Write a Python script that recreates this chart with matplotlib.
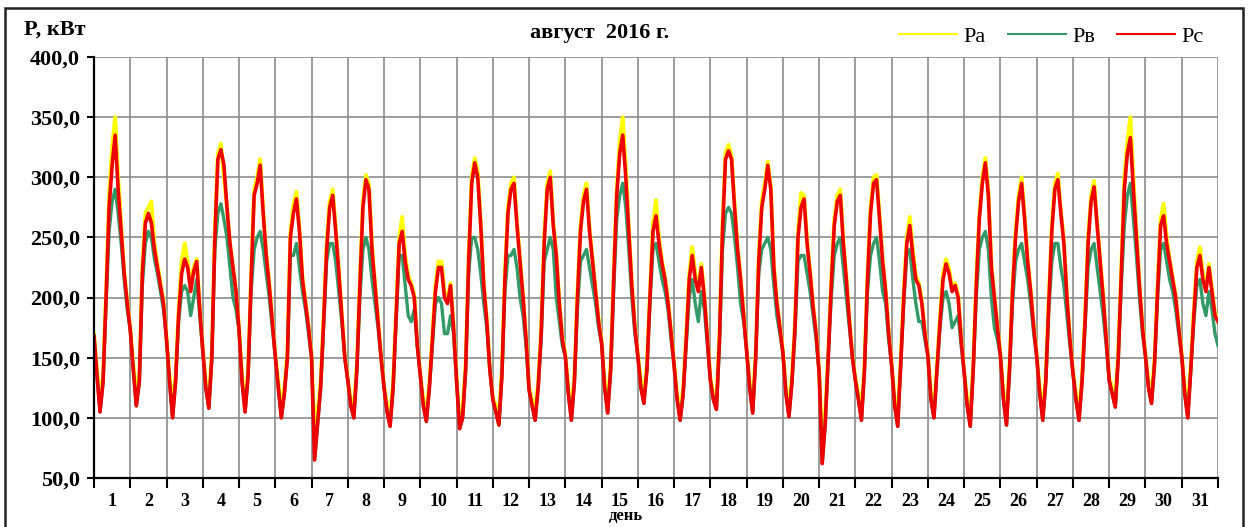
import matplotlib.pyplot as plt
import numpy as np
from matplotlib.patches import Rectangle

# readings every 2 hours (0, 2, ... 22 h) for each day of August 2016, kW
pc_days = [
    [168, 135, 105, 130, 200, 275, 310, 335, 290, 255, 220, 195],
    [173, 140, 110, 130, 220, 262, 270, 262, 240, 225, 210, 195],
    [165, 130, 100, 130, 185, 220, 232, 225, 205, 222, 230, 190],
    [156, 125, 108, 150, 250, 315, 323, 310, 275, 245, 225, 205],
    [173, 130, 105, 135, 215, 285, 295, 310, 270, 235, 210, 180],
    [151, 125, 100, 120, 150, 250, 270, 282, 255, 215, 195, 175],
    [150, 65, 95, 125, 180, 240, 275, 285, 255, 222, 185, 150],
    [131, 110, 100, 140, 210, 275, 298, 290, 240, 210, 180, 150],
    [125, 105, 93, 125, 185, 245, 255, 230, 215, 210, 200, 160],
    [135, 110, 97, 125, 165, 205, 225, 225, 200, 195, 210, 175],
    [131, 91, 100, 140, 230, 295, 312, 300, 260, 210, 180, 140],
    [115, 105, 94, 135, 215, 270, 290, 295, 260, 230, 200, 165],
    [123, 110, 98, 125, 170, 245, 290, 300, 260, 235, 195, 165],
    [151, 120, 98, 130, 200, 255, 280, 290, 255, 230, 205, 180],
    [162, 125, 104, 140, 215, 285, 320, 335, 300, 255, 210, 175],
    [151, 125, 112, 140, 200, 255, 268, 245, 228, 215, 195, 170],
    [143, 115, 98, 120, 165, 215, 235, 215, 205, 225, 200, 165],
    [131, 115, 107, 165, 255, 315, 322, 315, 275, 240, 215, 185],
    [156, 125, 104, 150, 230, 275, 290, 310, 290, 225, 195, 175],
    [154, 120, 101, 130, 175, 250, 275, 282, 245, 220, 192, 170],
    [137, 62, 95, 150, 210, 260, 280, 285, 245, 215, 180, 150],
    [131, 115, 98, 140, 215, 270, 295, 298, 265, 230, 205, 170],
    [143, 110, 93, 145, 200, 245, 260, 235, 215, 210, 195, 170],
    [151, 115, 100, 140, 180, 215, 228, 220, 205, 210, 200, 165],
    [137, 110, 93, 140, 210, 265, 295, 312, 285, 225, 200, 175],
    [151, 115, 94, 140, 205, 250, 280, 295, 265, 230, 205, 175],
    [151, 120, 98, 130, 195, 255, 290, 298, 270, 245, 200, 165],
    [137, 115, 98, 130, 180, 245, 280, 292, 260, 230, 200, 165],
    [131, 120, 109, 150, 220, 290, 320, 333, 290, 250, 210, 175],
    [151, 125, 112, 145, 205, 260, 268, 245, 230, 215, 200, 175],
    [151, 120, 100, 140, 185, 225, 235, 215, 205, 225, 205, 185],
]
pb_days = [
    [168, 135, 105, 130, 195, 255, 280, 290, 270, 245, 215, 190],
    [173, 140, 110, 130, 210, 245, 255, 250, 232, 220, 205, 190],
    [165, 130, 100, 130, 180, 205, 210, 205, 185, 200, 215, 185],
    [156, 125, 108, 150, 240, 270, 278, 265, 250, 225, 200, 190],
    [173, 130, 105, 135, 205, 240, 250, 255, 240, 220, 200, 175],
    [151, 125, 100, 120, 150, 235, 235, 245, 225, 205, 190, 170],
    [150, 65, 95, 125, 175, 230, 245, 245, 230, 205, 180, 150],
    [131, 110, 100, 140, 200, 240, 250, 240, 215, 195, 175, 150],
    [125, 105, 93, 125, 180, 235, 235, 210, 185, 180, 190, 160],
    [135, 110, 97, 125, 160, 195, 200, 195, 170, 170, 185, 170],
    [131, 91, 100, 140, 220, 250, 250, 240, 220, 195, 175, 140],
    [115, 105, 94, 135, 205, 235, 235, 240, 225, 200, 185, 160],
    [123, 110, 98, 125, 165, 230, 240, 250, 240, 200, 180, 160],
    [151, 120, 98, 130, 190, 230, 235, 240, 225, 210, 195, 175],
    [162, 125, 104, 140, 205, 265, 285, 295, 275, 240, 200, 170],
    [151, 125, 112, 140, 195, 240, 245, 230, 215, 205, 190, 165],
    [143, 115, 98, 120, 160, 200, 215, 195, 180, 205, 190, 160],
    [131, 115, 107, 160, 240, 270, 275, 270, 250, 225, 195, 180],
    [156, 125, 104, 150, 220, 240, 245, 250, 240, 210, 185, 170],
    [154, 120, 101, 130, 170, 230, 235, 235, 220, 205, 185, 165],
    [137, 62, 95, 150, 200, 235, 245, 250, 225, 200, 175, 150],
    [131, 115, 98, 140, 205, 235, 245, 250, 230, 205, 195, 165],
    [143, 110, 93, 145, 195, 235, 240, 215, 195, 180, 180, 165],
    [151, 115, 100, 140, 175, 200, 205, 195, 175, 180, 185, 160],
    [137, 110, 93, 140, 200, 240, 250, 255, 240, 200, 175, 165],
    [151, 115, 94, 140, 195, 230, 240, 245, 230, 215, 195, 170],
    [151, 120, 98, 130, 190, 230, 245, 245, 225, 210, 185, 160],
    [137, 115, 98, 130, 175, 225, 240, 245, 225, 205, 185, 160],
    [131, 120, 109, 150, 210, 260, 285, 295, 265, 235, 200, 170],
    [151, 125, 112, 145, 200, 240, 245, 230, 215, 205, 190, 170],
    [151, 120, 100, 140, 180, 210, 215, 195, 185, 205, 190, 170],
]
pa_days = [
    [170, 140, 115, 135, 205, 285, 325, 350, 300, 260, 222, 197],
    [175, 145, 120, 135, 225, 270, 275, 280, 245, 228, 212, 197],
    [167, 135, 112, 135, 190, 230, 245, 230, 210, 225, 232, 192],
    [158, 130, 115, 155, 255, 320, 328, 300, 275, 245, 225, 205],
    [175, 135, 112, 140, 220, 290, 300, 315, 272, 237, 212, 182],
    [153, 130, 110, 125, 155, 255, 278, 288, 258, 217, 197, 177],
    [152, 90, 105, 130, 185, 245, 280, 290, 258, 224, 187, 152],
    [133, 115, 108, 145, 215, 280, 302, 294, 244, 212, 182, 152],
    [127, 110, 102, 130, 190, 250, 267, 235, 218, 212, 202, 162],
    [137, 115, 105, 130, 170, 210, 230, 230, 205, 198, 212, 177],
    [133, 97, 108, 145, 235, 300, 316, 305, 262, 212, 182, 142],
    [117, 110, 103, 140, 220, 275, 295, 300, 262, 232, 202, 167],
    [125, 115, 106, 130, 175, 250, 295, 305, 262, 237, 197, 167],
    [153, 125, 106, 135, 205, 260, 285, 295, 258, 232, 207, 182],
    [164, 130, 112, 145, 220, 290, 330, 350, 310, 258, 212, 177],
    [153, 130, 120, 145, 205, 262, 281, 250, 230, 217, 197, 172],
    [145, 120, 106, 125, 170, 220, 242, 220, 208, 228, 202, 167],
    [133, 120, 114, 170, 260, 320, 327, 318, 278, 242, 217, 187],
    [158, 130, 112, 155, 235, 280, 295, 313, 292, 227, 197, 177],
    [156, 125, 110, 135, 180, 255, 287, 285, 248, 222, 194, 172],
    [139, 80, 105, 155, 215, 265, 285, 290, 248, 217, 182, 152],
    [133, 120, 106, 145, 220, 275, 300, 302, 268, 232, 207, 172],
    [145, 115, 102, 150, 205, 250, 267, 240, 218, 212, 197, 172],
    [153, 120, 108, 145, 185, 220, 232, 224, 208, 212, 202, 167],
    [139, 115, 102, 145, 215, 270, 300, 316, 288, 227, 202, 177],
    [153, 120, 103, 145, 210, 255, 285, 300, 268, 232, 207, 177],
    [153, 125, 106, 135, 200, 260, 295, 303, 272, 247, 202, 167],
    [139, 120, 106, 135, 185, 250, 285, 297, 262, 232, 202, 167],
    [133, 125, 116, 155, 225, 300, 330, 350, 300, 255, 212, 177],
    [153, 130, 120, 150, 210, 265, 278, 250, 232, 217, 202, 177],
    [153, 125, 108, 145, 190, 230, 242, 220, 208, 228, 207, 187],
]
# last reading, end of 31 August
pa_end, pb_end, pc_end = 182, 160, 180

days = list(range(1, 32))
hours = [0, 2, 4, 6, 8, 10, 12, 14, 16, 18, 20, 22]
y_ticks = [50, 100, 150, 200, 250, 300, 350, 400]
y_labels = ["50,0", "100,0", "150,0", "200,0", "250,0", "300,0", "350,0", "400,0"]

t = np.concatenate([[d - 1 + h / 24 for h in hours] for d in days] + [[31]])
pa = np.concatenate(pa_days + [[pa_end]])
pb = np.concatenate(pb_days + [[pb_end]])
pc = np.concatenate(pc_days + [[pc_end]])

serif = ["Liberation Serif", "DejaVu Serif"]
plt.rcParams["font.family"] = serif

W, H = 1251, 527
fig = plt.figure(figsize=(W / 100, H / 100), dpi=100)
ax = fig.add_axes([94 / W, 1 - 478 / H, (1218 - 94) / W, (478 - 57) / H])

ax.plot(t, pa, color="#ffff00", lw=2.8, label="Ра")
ax.plot(t, pb, color="#339966", lw=2.4, label="Рв")
ax.plot(t, pc, color="#ee0000", lw=2.6, label="Рс")

ax.set_xlim(0, 31)
ax.set_ylim(50, 400)
ax.set_yticks(y_ticks)
ax.set_yticklabels(y_labels, fontsize=16, fontweight="bold")
ax.set_xticks(range(0, 32))
ax.set_xticklabels([])
ax.set_xticks([d - 0.5 for d in days], minor=True)
ax.set_xticklabels([str(d) for d in days], minor=True, fontsize=13, fontweight="bold")
ax.tick_params(axis="x", which="major", direction="out", length=7, width=1.5)
ax.tick_params(axis="x", which="minor", length=0, pad=11)
ax.tick_params(axis="y", direction="out", length=5, width=1.5, pad=5)
ax.grid(True, which="major", color="#8c8c8c", lw=1.2)
ax.set_axisbelow(True)
for s in ["top", "right"]:
    ax.spines[s].set_visible(False)
for s in ["left", "bottom"]:
    ax.spines[s].set_linewidth(1.6)

fig.text(24 / W, 1 - 30 / H, "P, кВт", fontsize=16, fontweight="bold", va="center", ha="left")
fig.text(600 / W, 1 - 33 / H, "август  2016 г.", fontsize=16, fontweight="bold", va="center", ha="center")
fig.text(626 / W, 1 - 516 / H, "день", fontsize=12, fontweight="bold", va="center", ha="center")

leg = ax.legend(loc="center right", bbox_to_anchor=(1224 / W, 1 - 37 / H), bbox_transform=fig.transFigure,
                ncol=3, frameon=False, fontsize=16, handlelength=2.6, columnspacing=1.0, handletextpad=0.3)
for line in leg.get_lines():
    line.set_linewidth(1.5)

fig.patches.append(Rectangle((5 / W, -0.02), (1243 - 5) / W, 1.02 - 8 / H, transform=fig.transFigure,
                             fill=False, lw=1.8, ec="#222222"))

plt.savefig("out.png", dpi=100)
